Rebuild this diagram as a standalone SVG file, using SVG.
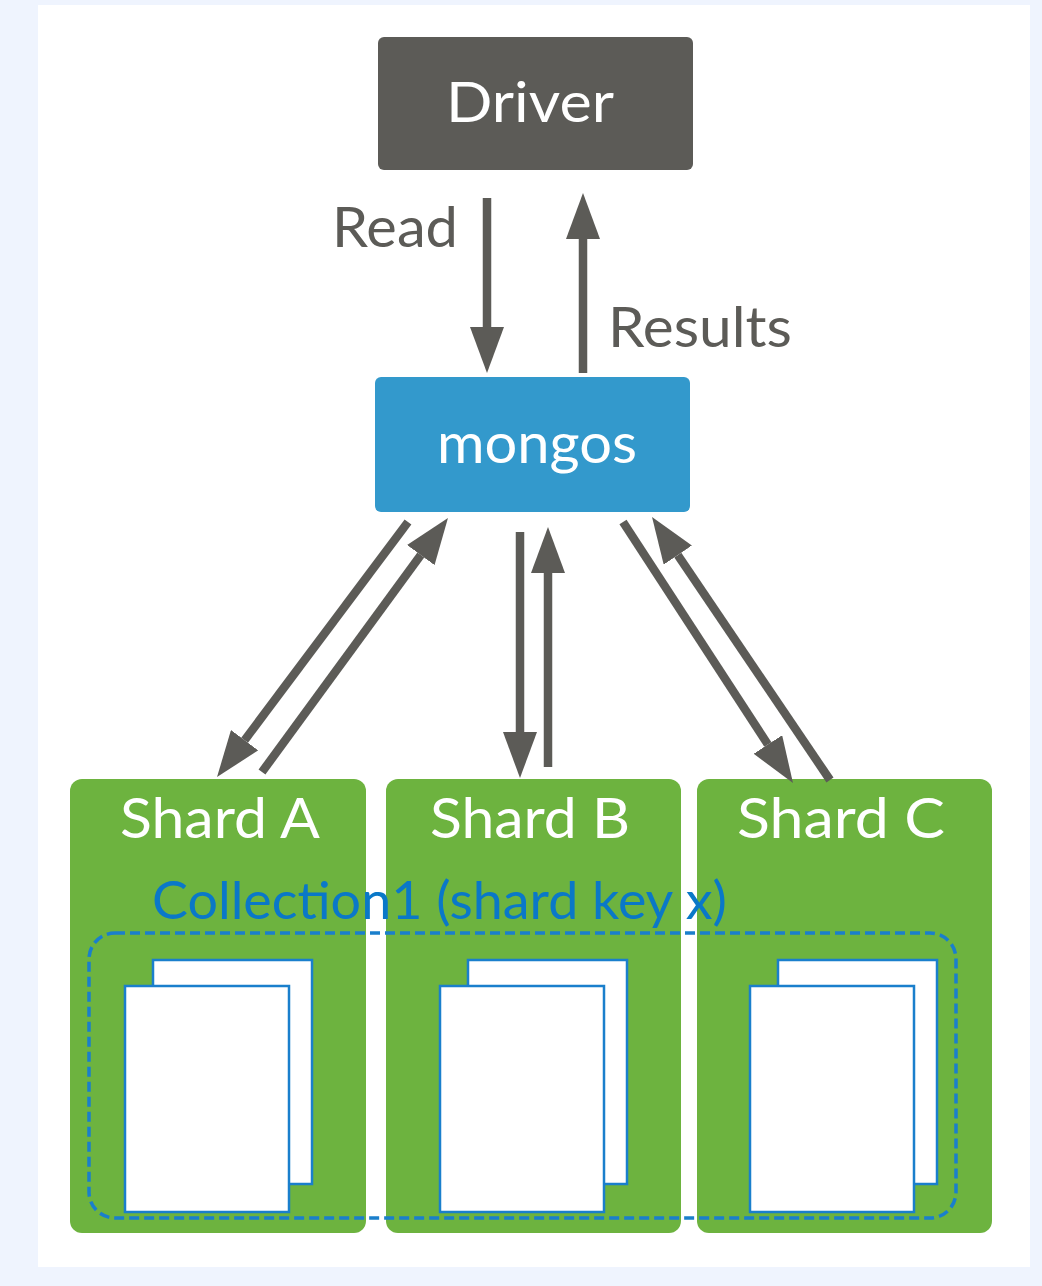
<svg xmlns="http://www.w3.org/2000/svg" width="1042" height="1286" viewBox="0 0 1042 1286">
  <style>
    .lbl { font-family: Lato, "Open Sans", "Liberation Sans", sans-serif; }
    .wt { fill: #ffffff; }
    .gt { fill: #5c5b57; }
    .shard { fill: #6db33f; }
    .doc { fill: #ffffff; stroke: #1a7fcc; stroke-width: 2.5; }
    .conn { stroke: #5c5b57; stroke-width: 8.5; fill: none; marker-end: url(#ah); }
  </style>
  <defs>
    <marker id="ah" markerUnits="userSpaceOnUse" viewBox="0 0 46 34" markerWidth="46" markerHeight="34" refX="0" refY="17" orient="auto">
      <path d="M0,0 L46,17 L0,34 z" fill="#5c5b57"/>
    </marker>
  </defs>
  <rect x="0" y="0" width="1042" height="1286" fill="#eff4fe"/>
  <rect x="38" y="5" width="992" height="1262" fill="#ffffff"/>

  <g id="driver">
    <rect x="378" y="37" width="315" height="133" rx="6" fill="#5c5b57"/>
    <text class="lbl wt" x="446" y="122" font-size="57" textLength="168" lengthAdjust="spacingAndGlyphs">Driver</text>
  </g>

  <g id="mongos">
    <rect x="375" y="377" width="315" height="135" rx="6" fill="#3399cc"/>
    <text class="lbl wt" x="437" y="463" font-size="56" textLength="200" lengthAdjust="spacingAndGlyphs">mongos</text>
  </g>

  <g id="shard-a">
    <rect class="shard" x="70" y="779" width="296" height="454" rx="12"/>
    <text class="lbl wt" x="120" y="838" font-size="57" textLength="200" lengthAdjust="spacingAndGlyphs">Shard A</text>
  </g>
  <g id="shard-b">
    <rect class="shard" x="386" y="779" width="295" height="454" rx="12"/>
    <text class="lbl wt" x="430" y="838" font-size="57" textLength="200" lengthAdjust="spacingAndGlyphs">Shard B</text>
  </g>
  <g id="shard-c">
    <rect class="shard" x="697" y="779" width="295" height="454" rx="12"/>
    <text class="lbl wt" x="737" y="838" font-size="57" textLength="208" lengthAdjust="spacingAndGlyphs">Shard C</text>
  </g>

  <g id="collection">
    <rect x="89" y="933" width="867" height="285" rx="26" fill="none" stroke="#1a7fcc" stroke-width="3.5" stroke-dasharray="10 5"/>
    <rect class="doc" x="153" y="960" width="159" height="224"/>
    <rect class="doc" x="125" y="986" width="164" height="226"/>
    <rect class="doc" x="468" y="960" width="159" height="224"/>
    <rect class="doc" x="440" y="986" width="164" height="226"/>
    <rect class="doc" x="778" y="960" width="159" height="224"/>
    <rect class="doc" x="750" y="986" width="164" height="226"/>
    <text class="lbl" x="152" y="919" font-size="52" fill="#0a78c8" textLength="575" lengthAdjust="spacingAndGlyphs">Collection1  (shard key x)</text>
  </g>

  <g id="connectors">
    <line class="conn" x1="487" y1="198" x2="487" y2="327"/>
    <line class="conn" x1="583" y1="373" x2="583" y2="239"/>
    <line class="conn" x1="408" y1="522" x2="244.6" y2="740.2"/>
    <line class="conn" x1="262" y1="772" x2="420.8" y2="555.1"/>
    <line class="conn" x1="520" y1="532" x2="520" y2="732"/>
    <line class="conn" x1="548" y1="767" x2="548" y2="573"/>
    <line class="conn" x1="623" y1="522" x2="767.9" y2="744.5"/>
    <line class="conn" x1="830" y1="780" x2="677.8" y2="555.1"/>
    <text class="lbl gt" x="332" y="247" font-size="56" textLength="126" lengthAdjust="spacingAndGlyphs">Read</text>
    <text class="lbl gt" x="608" y="347" font-size="56" textLength="184" lengthAdjust="spacingAndGlyphs">Results</text>
  </g>
</svg>
